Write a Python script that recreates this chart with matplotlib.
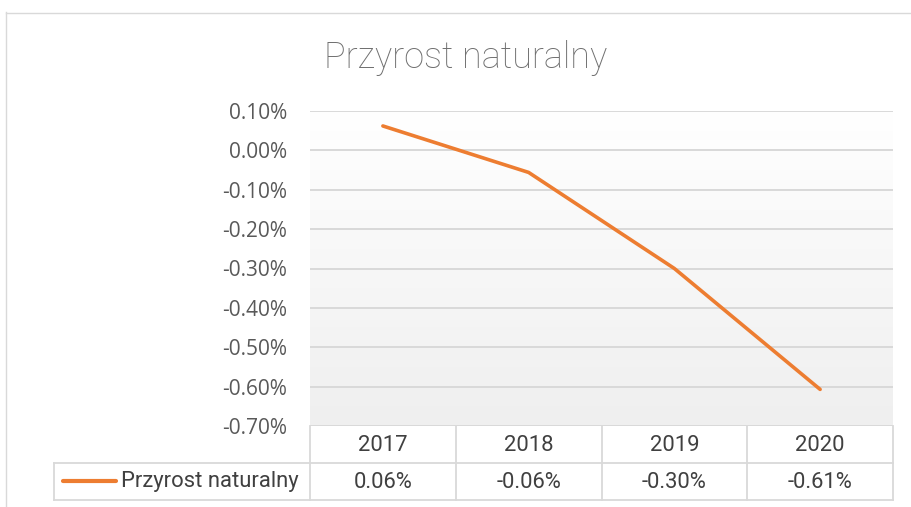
import matplotlib
matplotlib.use("Agg")
import matplotlib.pyplot as plt
import matplotlib.transforms as mtransforms
import numpy as np

# ---- data ----
title = "Przyrost naturalny"
series_name = "Przyrost naturalny"
years = ["2017", "2018", "2019", "2020"]
values = [0.062, -0.056, -0.30, -0.607]   # percent
yticks = [0.10, 0.00, -0.10, -0.20, -0.30, -0.40, -0.50, -0.60, -0.70]

W, H = 911, 507
fig = plt.figure(figsize=(W / 100, H / 100), dpi=100)
fig.patch.set_facecolor("white")

# overlay axes in pixel coordinates for frame/table
ov = fig.add_axes([0, 0, 1, 1], zorder=0)
ov.set_xlim(0, W)
ov.set_ylim(H, 0)
ov.axis("off")

# plot area
L, R, T, B = 310, 893, 111, 426
ax = fig.add_axes([L / W, (H - B) / H, (R - L) / W, (B - T) / H], zorder=1)
ax.set_xlim(-0.5, len(years) - 0.5)
ax.set_ylim(min(yticks), max(yticks))
ax.patch.set_alpha(0)

# gradient background
grad = np.linspace(0, 1, 256).reshape(-1, 1)
c_top = np.array([1.0, 1.0, 1.0])
c_bot = np.array([0xef, 0xef, 0xef]) / 255
img = c_top + (c_bot - c_top) * grad[..., None]
img = img.reshape(256, 1, 3)
ax.imshow(img, extent=[-0.5, len(years) - 0.5, min(yticks), max(yticks)],
          aspect="auto", origin="upper", zorder=0)

for s in ax.spines.values():
    s.set_visible(False)
ax.set_yticks(yticks)
ax.set_yticklabels([f"{v:.2f}%" for v in yticks], fontfamily="Open Sans",
                   fontsize=15, color="#595959")
ax.tick_params(axis="y", length=0, pad=16.5)
ax.set_xticks([])
for v in yticks:
    ax.axhline(v, color="#d9d9d9", lw=1.4, zorder=1)

x = np.arange(len(years))
ax.plot(x, values, color="#ED7D31", lw=2.6, solid_capstyle="round", zorder=3)

# title
fig.text(466 / W, 1 - 58 / H, title, ha="center", va="center",
         fontfamily="Roboto", fontweight="light", fontsize=26, color="#6f6f6f")

# chart frame
gc = "#d9d9d9"
ov.plot([5.5, 5.5], [12, H], color=gc, lw=1.0)
ov.plot([5.5, W], [12.5, 12.5], color=gc, lw=1.0)

# data table
tc = "#d9d9d9"
row1_top, row1_bot, row2_bot = B, 463, 500
left_cell = 54
col_edges = [L + (R - L) * i / len(years) for i in range(len(years) + 1)]
ov.plot([left_cell, R], [row1_bot, row1_bot], color=tc, lw=1.3)
ov.plot([left_cell, R], [row2_bot, row2_bot], color=tc, lw=1.3)
for xe in col_edges:
    ov.plot([xe, xe], [row1_top, row2_bot], color=tc, lw=1.3)
ov.plot([left_cell, left_cell], [row1_bot, row2_bot], color=tc, lw=1.3)

blend = mtransforms.blended_transform_factory(ax.transData, ov.transData)
tfont = dict(fontfamily="Roboto", fontsize=15.8, color="#404040")
for i, (yr, v) in enumerate(zip(years, values)):
    fig.text(i, (row1_top + row1_bot) / 2 + 1, yr, transform=blend,
             ha="center", va="center", **tfont)
    fig.text(i, (row1_bot + row2_bot) / 2 + 1, f"{v:.2f}%", transform=blend,
             ha="center", va="center", **tfont)

ov.plot([63, 116], [481, 481], color="#ED7D31", lw=3.0, solid_capstyle="round")
ov.text(121, 481, series_name, ha="left", va="center", **tfont)

fig.savefig("out.png", dpi=100)
